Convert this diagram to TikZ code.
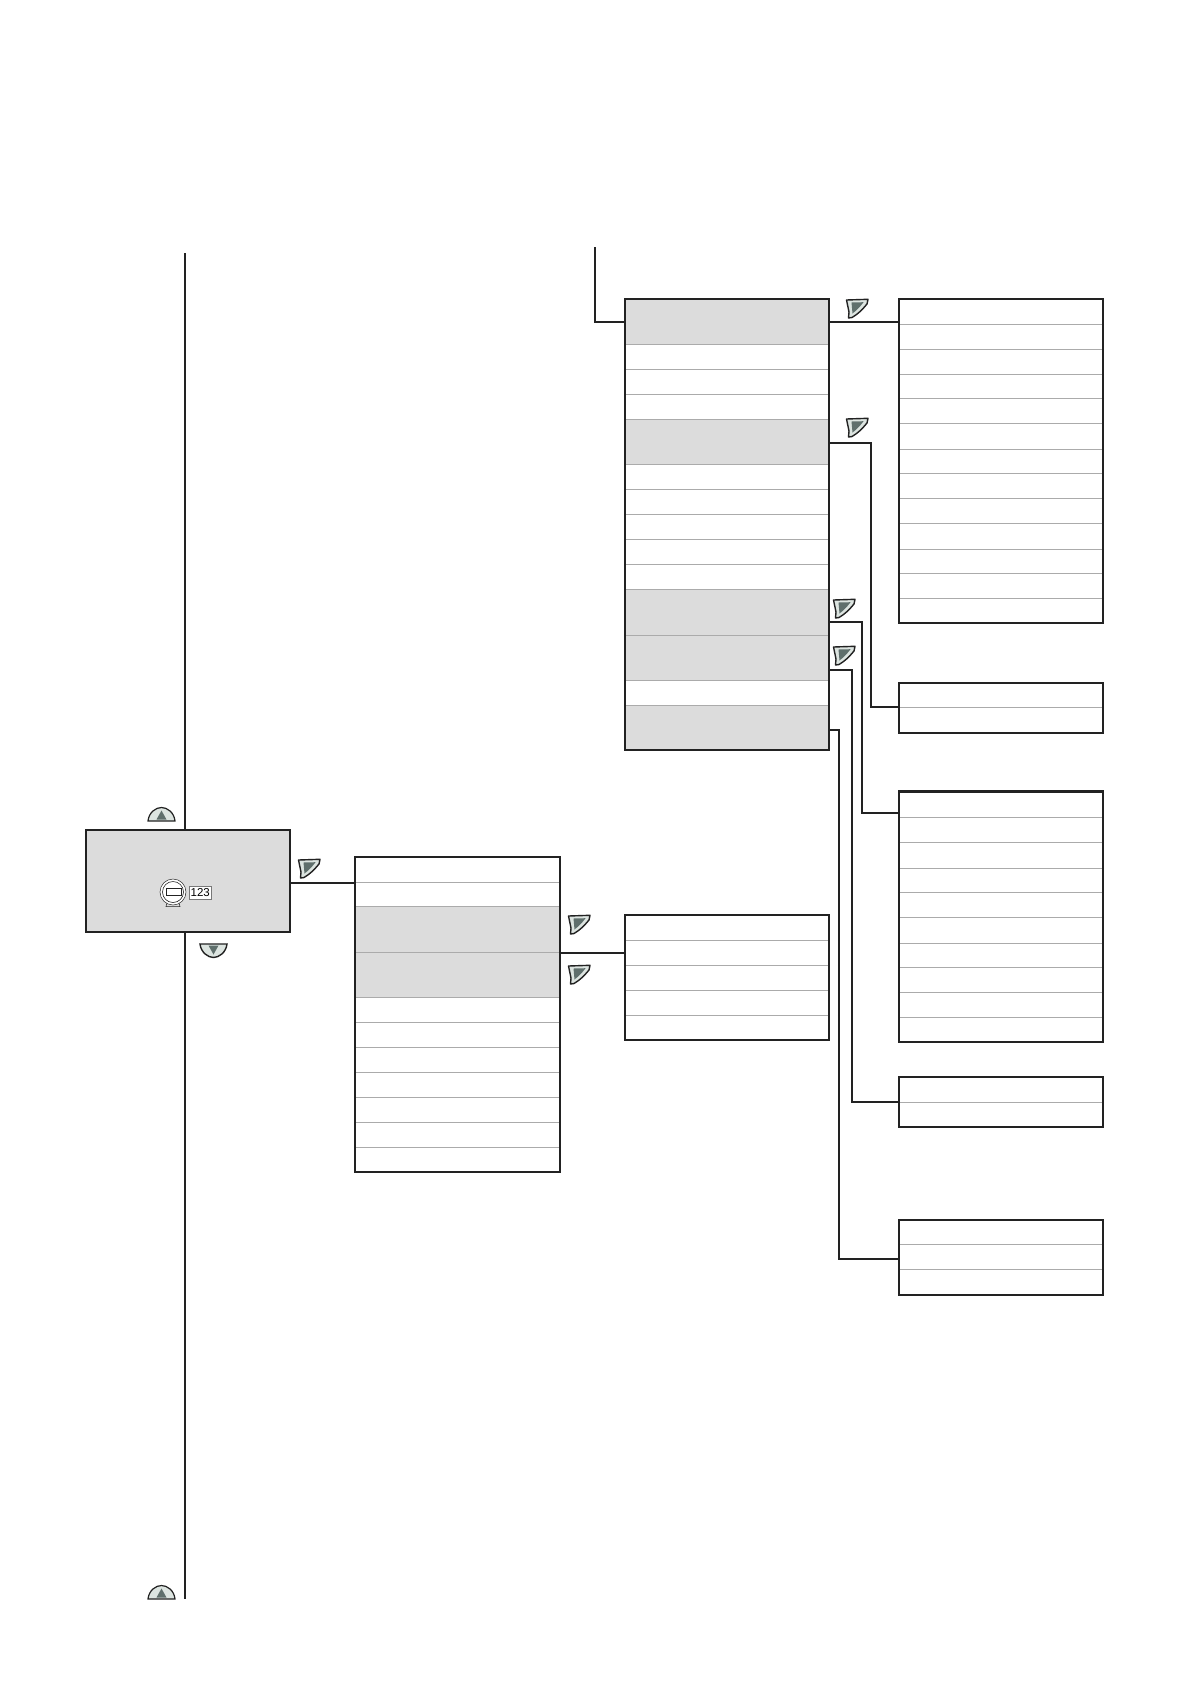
\documentclass[tikz,border=0pt]{standalone}
\usepackage{fontspec}
\setmainfont{Liberation Sans}
\definecolor{bandgray}{HTML}{DCDCDC}
\definecolor{rulegray}{HTML}{ABABAB}
\definecolor{inkdark}{HTML}{222222}
\definecolor{iconlight}{HTML}{DCE4E0}
\definecolor{icondark}{HTML}{5F6F6C}
\tikzset{
  panel/.style={draw=inkdark,line width=2.2pt,inner sep=0pt,outer sep=0pt,anchor=north west},
  band/.style={fill=bandgray,draw=none},
  rowline/.style={draw=rulegray,line width=0.9pt},
  wire/.style={draw=inkdark,line width=2.2pt,line join=miter},
  pics/btnright/.style={code={
    \draw[draw=inkdark,line width=1.4pt,fill=iconlight,line join=round]
      (0.5,1) -- (22,0.3) -- (21,5) .. controls (16,11) and (12,15) .. (6,18.5) -- (2.5,19) -- (3,13) -- cycle;
    \fill[icondark] (5.5,3.5) -- (17.5,3.2) .. controls (14,8) and (11,11) .. (6.5,14.5) -- cycle;
  }},
  pics/btnup/.style={code={
    \draw[draw=inkdark,line width=1.2pt,fill=iconlight]
      (0,14) .. controls (1,5) and (8,0.5) .. (13.5,0.5) .. controls (19,0.5) and (26,5) .. (27,14) -- cycle;
    \fill[icondark] (13.5,3.5) -- (18.5,12.5) -- (8.5,12.5) -- cycle;
  }},
  pics/btndown/.style={code={
    \draw[draw=inkdark,line width=1.4pt,fill=iconlight]
      (0,0.5) -- (27,0.5) .. controls (26,9) and (19,14) .. (13.5,14) .. controls (8,14) and (1,9) .. (0,0.5) -- cycle;
    \fill[icondark] (8.5,2) -- (18.5,2) -- (13.5,11) -- cycle;
  }},
}
\begin{document}
\begin{tikzpicture}[x=1pt,y=-1pt]
\useasboundingbox (0,0) rectangle (1191,1684);
% gray bands
\fill[band] (86,830) rectangle (290,932);
\fill[band] (355,906.5) rectangle (560,997.7);
\fill[band] (625,299) rectangle (829,344.5);
\fill[band] (625,419) rectangle (829,464);
\fill[band] (625,589) rectangle (829,680);
\fill[band] (625,705.5) rectangle (829,750);
% row lines
\foreach \y in {882.5,906.5,952.6,997.7,1022.4,1047,1072,1097.6,1122,1147} \draw[rowline] (355,\y) -- (560,\y);
\foreach \y in {344.5,369.5,394,419,464,489.5,514.5,539,564,589,635,680,705.5} \draw[rowline] (625,\y) -- (829,\y);
\foreach \y in {940.5,965.5,990,1015} \draw[rowline] (625,\y) -- (829,\y);
\foreach \y in {324,349,374,398,423,449,473,498,523,549,573,598,707,817,842,868,892.5,917,943,967.7,992,1017,1102,1244.5,1269.5} \draw[rowline] (899,\y) -- (1103,\y);
% panels
\node[panel,minimum width=204pt,minimum height=102pt] (mainbox) at (86,830) {};
\node[panel,minimum width=205pt,minimum height=315pt] (listbox) at (355,857) {};
\node[panel,minimum width=204pt,minimum height=124.6pt] (midbox) at (625,915) {};
\node[panel,minimum width=204pt,minimum height=451pt] (menubox) at (625,299) {};
\node[panel,minimum width=204pt,minimum height=324pt] (boxa) at (899,299) {};
\node[panel,minimum width=204pt,minimum height=50pt] (boxb) at (899,683) {};
\node[panel,minimum width=204pt,minimum height=250.5pt] (boxc) at (899,791.5) {};
\node[panel,minimum width=204pt,minimum height=49.6pt] (boxd) at (899,1077) {};
\node[panel,minimum width=204pt,minimum height=75pt] (boxe) at (899,1220) {};
% free ends
\coordinate (spinetop) at (185,253);
\coordinate (spinebottom) at (185,1599);
\coordinate (menutop) at (595,247);
\coordinate (mE) at (290,883);
\coordinate (lE) at (560,952.6);
\coordinate (m1) at (625,322);
\coordinate (e1) at (829,322);
\coordinate (e2) at (829,443);
\coordinate (e3) at (829,622);
\coordinate (e4) at (829,670);
\coordinate (e5) at (829,730);
% connectors
\draw[wire] (spinetop) -- (spinetop |- mainbox.north);
\draw[wire] (spinebottom |- mainbox.south) -- (spinebottom);
\draw[wire] (mE) -- (mE -| listbox.west);
\draw[wire] (lE) -- (lE -| midbox.west);
\draw[wire] (menutop) -- (menutop |- m1) -- (m1);
\draw[wire] (e1) -- (e1 -| boxa.west);
\draw[wire] (e2) -- (871,443) -- (871,707) -- (899,707);
\draw[wire] (e3) -- (862,622) -- (862,813) -- (899,813);
\draw[wire] (e4) -- (852,670) -- (852,1102) -- (899,1102);
\draw[wire] (e5) -- (839,730) -- (839,1259) -- (899,1259);
% buttons
\pic at (148,807) {btnup};
\pic at (148,1585) {btnup};
\pic at (200,943.5) {btndown};
\foreach \px/\py in {298/859,568/915,568/965,846/299,846/418,833/599,833/646} \pic at (\px,\py) {btnright};
% display symbol
\draw[draw=inkdark,line width=0.5pt,fill=bandgray] (167,903) -- (166,906.5) -- (180,906.5) -- (179,903);
\draw[draw=inkdark,line width=0.5pt,fill=white] (173,892) circle (13);
\draw[draw=inkdark,line width=0.6pt,fill=white] (173,892) circle (10.5);
\draw[draw=inkdark,line width=0.5pt,fill=white] (166,888) rectangle (181,895.5);
\node[draw=rulegray!70!black,fill=white,line width=0.8pt,inner sep=0pt,minimum width=22.5pt,minimum height=13pt,font=\fontsize{11.5}{12}\selectfont] (countbox) at (200.3,893) {123};
\end{tikzpicture}
\end{document}
